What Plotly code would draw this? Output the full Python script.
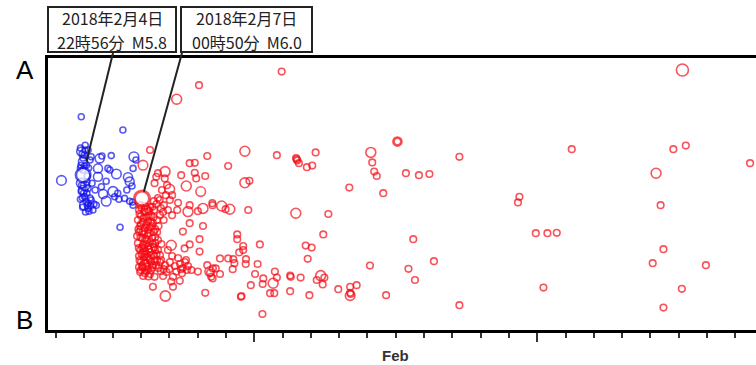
import math
import pandas as pd
import plotly.graph_objects as go

# ---- data: time as decimal day of February 2018 (JST), position along profile A-B (km), magnitude ----
blue_day = [4.89, 6.36, 5.03, 4.89, 4.99, 5.13, 5.24, 5.54, 5.62, 5.95, 6.75, 4.95, 5.07, 5.48, 5.83, 6.72,
            4.19, 5.48, 6.13, 6.54, 5.77, 6.60, 4.89, 5.13, 4.89, 6.01, 5.60, 5.01, 6.07, 5.77, 6.42, 6.60,
            5.13, 5.42, 5.13, 6.72, 6.26, 4.95, 5.02, 5.09, 5.20, 5.06, 5.34, 5.90, 5.66, 6.18, 6.50, 6.22,
            6.82, 5.02, 4.95, 4.88, 5.20, 4.95, 5.09, 5.27, 5.38, 5.24, 4.99, 6.68, 6.70,
            4.86, 4.92, 4.86, 4.90, 4.97, 4.86, 4.94, 5.04, 5.10, 5.15, 5.00, 4.93, 5.10, 5.16, 5.30, 5.22]
blue_km = [14.7, 18.0, 21.8, 23.4, 24.3, 23.0, 24.7, 25.1, 24.5, 24.4, 24.7, 25.9, 26.8, 27.6, 27.6, 27.6,
           30.6, 29.7, 29.0, 29.8, 30.8, 30.9, 31.3, 32.6, 33.4, 33.4, 32.2, 34.7, 34.7, 35.8, 35.1, 35.8,
           36.3, 36.8, 37.6, 36.8, 42.3, 28.0, 32.0, 33.8, 35.0, 35.8, 36.5, 28.0, 34.0, 33.8, 33.0, 35.3,
           25.5, 23.0, 25.0, 26.8, 25.5, 33.0, 31.0, 31.3, 33.0, 35.5, 36.8, 32.0, 36.0,
           22.5, 24.0, 27.5, 31.8, 33.8, 35.3, 37.3, 38.5, 29.5, 27.5, 27.0, 35.0, 36.8, 38.3, 38.0, 37.0]
blue_mag = [3.0, 3.0, 3.0, 4.0, 3.0, 3.0, 3.0, 4.0, 3.0, 3.0, 4.2, 4.0, 3.0, 4.0, 3.0, 3.0,
            4.2, 4.0, 4.2, 4.0, 3.0, 4.0, 4.2, 3.0, 3.0, 4.3, 3.0, 3.0, 3.0, 4.2, 3.0, 3.0,
            3.0, 3.0, 3.0, 3.0, 3.0, 3.0, 4.0, 3.0, 3.0, 3.0, 3.0, 3.0, 4.0, 3.0, 3.0, 3.0,
            3.0, 3.0, 3.0, 3.0, 3.0, 4.0, 3.0, 3.0, 3.0, 3.0, 4.0, 3.0, 3.0,
            3.0, 3.0, 3.0, 3.0, 3.0, 3.0, 3.0, 3.0, 3.0, 3.0, 3.0, 3.0, 3.0, 3.0, 3.0, 3.0]

red_day = [6.97, 7.14, 7.32, 6.93, 7.11, 7.28, 7.46, 7.00, 7.18, 7.35, 6.89, 7.07, 7.25, 7.42, 6.97, 7.14,
           7.32, 7.50, 6.93, 7.11, 7.28, 7.04, 7.21, 7.39, 6.89, 7.07, 7.25, 7.42, 6.97, 7.14, 7.32, 7.50,
           6.93, 7.11, 7.28, 7.46, 7.00, 7.18, 7.35, 7.07, 7.25, 6.93, 7.42, 7.14, 7.32, 7.57, 7.60, 7.67,
           7.60, 7.57, 7.67, 7.57, 7.13, 7.04, 7.18, 7.39, 7.21, 7.04, 6.86, 7.50, 7.25, 7.35, 7.18, 7.07,
           7.53, 6.97,
           7.74, 7.88, 8.02, 7.81, 7.95, 8.10, 7.78, 7.92, 8.10, 8.01, 7.60, 7.48, 7.66, 7.54, 7.84, 7.85,
           7.60, 7.07, 7.32,
           7.67, 7.85, 8.02, 8.20, 8.38, 8.55, 8.31, 8.10, 8.66, 8.48, 7.95, 7.71, 8.59, 8.41,
           9.34, 8.72, 8.90, 8.42, 8.90, 9.27, 8.95, 8.60, 9.11, 8.31, 8.72, 8.66, 9.19, 9.52, 8.28, 9.01,
           8.72, 9.19, 8.48, 9.07, 8.72, 8.07, 8.54, 9.07, 9.34, 9.54, 8.78, 9.01, 9.43, 9.48, 7.48, 7.78,
           8.13, 8.37, 8.07, 7.42, 8.13, 7.86, 9.27, 10.53, 10.55,
           8.26, 9.05,
           10.67, 11.80, 12.50, 12.52, 12.48, 12.58, 10.08, 10.67, 10.83, 9.53, 9.85, 9.99, 10.14, 10.79,
           12.47, 10.40, 10.40, 11.20, 10.61, 10.61, 10.47, 10.08, 10.26, 10.30, 10.71, 10.70, 11.12, 9.64,
           9.44, 9.53, 10.24, 11.03, 11.32, 11.73, 11.80, 11.67, 11.30, 12.27, 12.29, 10.88, 11.56, 11.71,
           12.27, 11.29, 9.79, 9.79,
           11.97, 26.13, 16.06, 16.06, 22.22, 25.81, 26.25, 28.52, 13.17, 12.86, 13.05, 15.12, 15.17, 15.24,
           15.33, 16.36, 16.82, 17.19, 18.25, 14.36, 15.56, 25.20, 25.36, 20.37, 20.32, 13.62, 13.44, 20.95,
           21.36, 21.69, 16.62, 12.82, 13.03, 12.89, 25.46, 25.08, 26.96, 17.35, 15.09, 16.45, 16.68, 12.64,
           13.35, 13.21, 13.48, 13.42, 14.39, 14.62, 14.39, 14.39, 14.41, 13.97, 12.95, 15.66, 21.22, 26.11,
           18.25, 25.46]
red_km = [36.8, 37.0, 37.3, 38.0, 38.5, 38.3, 38.0, 39.5, 39.8, 39.3, 40.5, 41.0, 40.8, 41.3, 42.0, 42.5,
          42.3, 42.8, 43.5, 44.0, 43.8, 45.0, 45.5, 45.0, 46.3, 46.8, 47.0, 46.5, 48.0, 48.3, 48.5, 48.0,
          49.5, 49.8, 50.0, 49.5, 51.0, 51.3, 51.0, 52.5, 52.8, 52.3, 52.3, 53.8, 54.0, 50.5, 48.0, 49.3,
          45.5, 43.5, 39.3, 40.5, 51.8, 43.0, 38.0, 47.5, 49.8, 47.3, 44.5, 44.8, 43.0, 41.0, 46.5, 48.8,
          51.8, 53.5,
          33.0, 34.3, 35.5, 36.8, 38.0, 39.3, 38.5, 31.8, 34.3, 32.8, 35.0, 31.3, 35.5, 29.7, 30.1, 28.4,
          28.8, 26.8, 23.0,
          51.0, 51.8, 51.0, 52.0, 51.5, 51.0, 50.0, 49.5, 52.0, 52.5, 48.0, 50.5, 50.5, 52.8,
          24.5, 26.3, 26.2, 29.3, 28.7, 29.5, 30.1, 32.0, 33.4, 36.2, 36.8, 38.4, 37.6, 36.3, 38.0, 38.3,
          41.3, 42.0, 43.4, 45.3, 46.6, 46.8, 47.6, 48.4, 51.8, 52.6, 53.0, 53.4, 53.4, 54.7, 54.7, 54.5,
          54.7, 55.7, 55.9, 57.2, 57.2, 59.5, 58.7, 59.7, 59.5,
          10.3, 6.8,
          23.3, 24.3, 25.3, 25.6, 25.0, 26.3, 27.0, 31.2, 30.7, 36.8, 37.0, 37.8, 37.8, 38.0,
          38.8, 44.1, 45.3, 46.6, 47.0, 48.0, 48.6, 50.1, 50.3, 51.3, 50.3, 51.5, 51.5, 52.6,
          53.7, 55.1, 52.8, 54.0, 55.1, 53.4, 54.9, 56.3, 56.5, 54.4, 54.7, 56.8, 58.8, 58.8,
          58.3, 64.0, 50.1, 54.0,
          3.4, 3.0, 20.9, 20.9, 22.8, 22.8, 21.9, 26.3, 23.6, 27.3, 26.9, 23.6, 26.1, 28.4,
          29.5, 28.8, 29.3, 29.0, 24.7, 32.4, 33.8, 28.8, 36.8, 34.7, 36.1, 39.0, 44.1, 43.8,
          43.8, 43.7, 45.3, 46.9, 47.4, 50.2, 47.8, 51.3, 51.8, 50.8, 51.9, 52.7, 55.5, 54.9,
          54.4, 55.5, 54.9, 56.6, 57.2, 56.8, 59.4, 58.7, 59.0, 57.8, 59.3, 59.3, 57.4, 57.7,
          61.8, 62.4]
red_mag = ([3.2] * 52 + [4.5, 4.2, 4.2, 4.2] + [3.2] * 10
           + [3.2] * 9 + [4.3] + [3.2] * 5 + [4.3, 3.2, 4.2, 3.2]
           + [3.2] * 14
           + [3.2] * 7 + [4.3, 4.2, 3.2, 3.2, 4.3, 4.3, 3.2, 3.2, 3.2]
           + [3.2] * 5 + [4.3] + [3.2] * 6 + [4.2] + [3.2] * 3
           + [3.2] * 5 + [4.4] + [3.2] * 3
           + [4.3, 3.2]
           + [4.3] + [3.2] * 6 + [4.3, 3.2, 3.2, 4.3, 3.2, 4.3, 3.2]
           + [4.3] + [3.2] * 13
           + [3.2] * 7 + [4.3] + [3.2] * 6
           + [3.2] * 4
           + [3.2, 5.0, 4.0] + [3.2] * 8 + [4.3] + [3.2] * 2
           + [3.2] * 7 + [4.3] + [3.2] * 6
           + [3.2] * 14
           + [4.3] + [3.2] * 5 + [4.2] + [3.2] * 7
           + [3.2] * 2)

# densely packed aftershocks right after the main shock
core_day = [7.02, 7.22, 7.40, 6.95, 7.09, 7.27, 7.44, 7.00, 7.20, 7.38, 6.91, 7.06, 7.23, 7.45, 6.98, 7.15,
            7.32, 7.50, 6.92, 7.10, 7.28, 7.46, 7.02, 7.19, 7.37, 7.55, 6.95, 7.12, 7.30, 7.48, 7.04, 7.22,
            7.40, 6.99, 7.18, 7.36, 7.08, 7.26, 7.62, 7.70, 7.80, 7.90, 8.00, 8.25, 8.45, 8.62, 7.55, 7.45,
            7.70, 7.80, 7.62, 7.72]
core_km = [37.5, 37.8, 37.2, 39.0, 40.0, 39.6, 39.8, 41.5, 41.8, 42.0, 42.8, 43.5, 44.3, 43.5, 44.8, 45.2,
           46.0, 46.2, 47.5, 47.6, 47.8, 47.3, 49.0, 49.0, 49.2, 49.0, 50.6, 50.8, 50.5, 50.8, 52.0, 52.0,
           51.8, 53.0, 53.2, 53.0, 54.5, 54.6, 52.5, 53.3, 52.8, 53.5, 52.8, 53.4, 53.8, 53.0, 36.5, 35.8,
           37.5, 40.5, 42.0, 46.5]
core_mag = [3.2] * len(core_day)

fore_day, fore_km, fore_mag = [4.9556], [29.25], [5.8]   # 2018-02-04 22:56 M5.8
main_day, main_km, main_mag = [7.0347], [35.1], [6.0]    # 2018-02-07 00:50 M6.0

box_lines = [["2018年2月4日", "22時56分  M5.8"], ["2018年2月7日", "00時50分  M6.0"]]
y_tick_text = ["A", "B"]
y_tick_km = [3.0, 65.5]
x_range_day = [3.714, 28.73]
y_range_km = [68, 0]
major_tick_day = [11, 21]
month_label = "Feb"

n = min(len(red_day), len(red_km), len(red_mag))
red_day = red_day[:n] + core_day
red_km = red_km[:n] + core_km
red_mag = red_mag[:n] + core_mag

W, H = 756, 365
ML, MR, MT, MB = 48, 0, 58, 35
PW, PH = W - ML - MR, H - MT - MB


def to_time(days):
    return [pd.Timestamp("2018-01-31") + pd.to_timedelta(d, unit="D") for d in days]


def msize(mags):
    return [6 + (m - 3.0) * 3.0 for m in mags]


def px_to_paper(px, py):
    return (px - ML) / PW, 1 - (py - MT) / PH


def paper_xy(day, km):
    px = (day - x_range_day[0]) / (x_range_day[1] - x_range_day[0])
    py = (km - y_range_km[0]) / (y_range_km[1] - y_range_km[0])
    return px, py


def leader(day, km, tail_px, tail_py, standoff):
    hx, hy = paper_xy(day, km)
    hxp, hyp = ML + hx * PW, MT + (1 - hy) * PH
    dx, dy = tail_px - hxp, tail_py - hyp
    d = math.hypot(dx, dy)
    ex, ey = hxp + dx * standoff / d, hyp + dy * standoff / d
    x0, y0 = px_to_paper(tail_px, tail_py)
    x1, y1 = px_to_paper(ex, ey)
    return dict(type="line", xref="paper", yref="paper", x0=x0, y0=y0, x1=x1, y1=y1,
                line=dict(color="#222", width=2))


fig = go.Figure()
fig.add_trace(go.Scatter(x=to_time(blue_day), y=blue_km, mode="markers",
                         marker=dict(symbol="circle-open", size=msize(blue_mag), color="rgb(20,20,235)",
                                     line=dict(width=1.6))))
fig.add_trace(go.Scatter(x=to_time(fore_day), y=fore_km, mode="markers",
                         marker=dict(symbol="circle", size=msize(fore_mag), color="white",
                                     line=dict(width=2.6, color="rgb(20,20,235)"))))
fig.add_trace(go.Scatter(x=to_time(red_day), y=red_km, mode="markers",
                         marker=dict(symbol="circle-open", size=msize(red_mag), color="rgb(245,10,20)",
                                     line=dict(width=1.6))))
fig.add_trace(go.Scatter(x=to_time(main_day), y=main_km, mode="markers",
                         marker=dict(symbol="circle", size=msize(main_mag), color="white",
                                     line=dict(width=3, color="rgb(245,10,20)"))))

shapes = [leader(fore_day[0], fore_km[0], 113, 53, 14),
          leader(main_day[0], main_km[0], 182, 53, 7)]

annotations = []
box_px = [(48, 176), (181, 312)]
for (bx0, bx1), lines in zip(box_px, box_lines):
    x0, y0 = px_to_paper(bx0, 52)
    x1, y1 = px_to_paper(bx1, 7)
    shapes.append(dict(type="rect", xref="paper", yref="paper", x0=x0, y0=y0, x1=x1, y1=y1,
                       line=dict(color="#222", width=2), fillcolor="white", layer="above"))
    xc = px_to_paper((bx0 + bx1) / 2, 0)[0]
    for ly, txt in zip([18.5, 41.5], lines):
        annotations.append(dict(x=xc, y=px_to_paper(0, ly)[1], xref="paper", yref="paper", text=txt,
                                showarrow=False, xanchor="center", yanchor="middle", borderpad=0,
                                font=dict(family="Noto Sans CJK JP", size=16, color="#222")))
for km, lab in zip(y_tick_km, y_tick_text):
    annotations.append(dict(x=-0.0325, y=km, xref="paper", yref="y", text=lab, showarrow=False,
                            xanchor="center", yanchor="middle",
                            font=dict(family="Liberation Sans", size=26, color="black")))
annotations.append(dict(x=pd.Timestamp("2018-02-16"), y=-0.092, xref="x", yref="paper",
                        text="<b>" + month_label + "</b>", showarrow=False, xanchor="center",
                        yanchor="middle", font=dict(family="Liberation Sans", size=15, color="#333")))

fig.update_layout(
    width=W, height=H, margin=dict(l=ML, r=MR, t=MT, b=MB),
    paper_bgcolor="white", plot_bgcolor="white", showlegend=False,
    annotations=annotations, shapes=shapes,
    xaxis=dict(type="date", range=to_time(x_range_day), showgrid=False, zeroline=False,
               showline=True, mirror=True, linecolor="black", linewidth=2.5,
               tickvals=to_time(major_tick_day), ticks="outside", ticklen=9, tickwidth=2,
               tickcolor="#333", showticklabels=False,
               minor=dict(ticks="outside", ticklen=5, tickwidth=1.5, tickcolor="#333",
                          dtick=86400000, tick0="2018-02-01", showgrid=False)),
    yaxis=dict(range=y_range_km, showgrid=False, zeroline=False, showline=True, linecolor="black",
               linewidth=2.5, showticklabels=False, ticks=""),
)

fig.write_html("out.html")
